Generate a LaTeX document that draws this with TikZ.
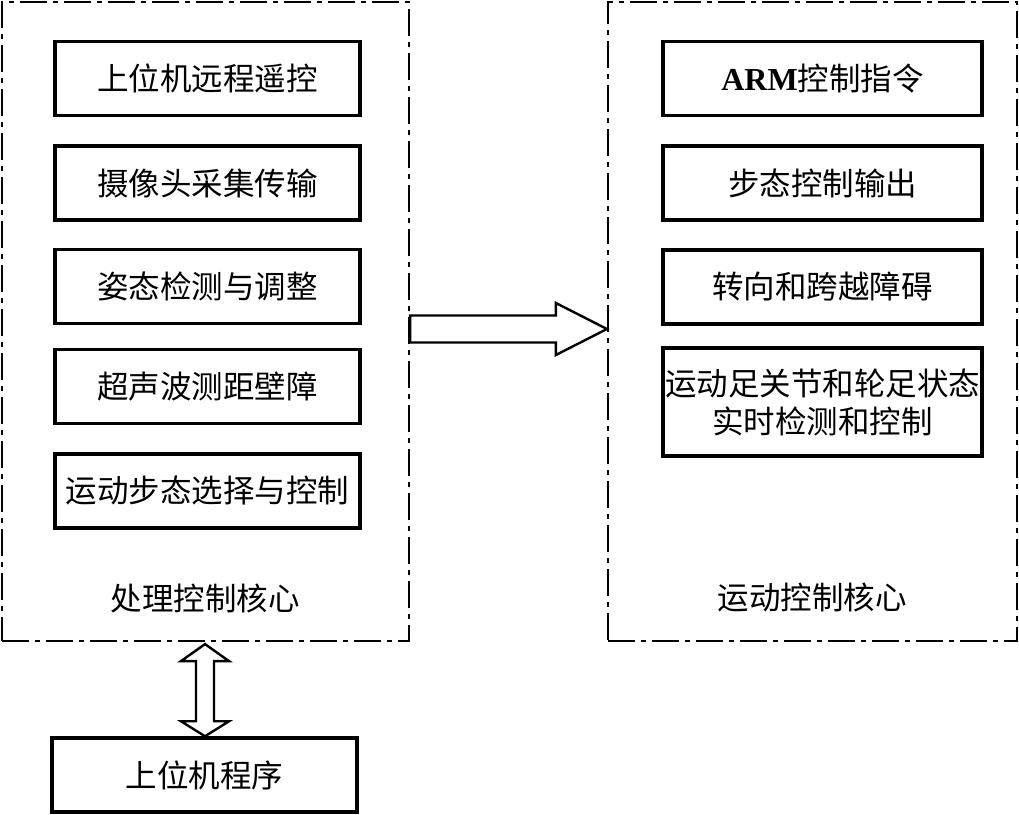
\documentclass[tikz,border=0pt]{standalone}
\usepackage{fontspec}
\setmainfont{Liberation Serif}
\newfontfamily\cjk{Noto Sans CJK SC}
\usetikzlibrary{calc}
\begin{document}
\begin{tikzpicture}[x=1pt,y=-1pt,
  lbox/.style={draw, line width=3.5pt, minimum width=305pt, minimum height=74pt, inner sep=0pt,
    font=\fontsize{31.5}{38}\selectfont\cjk},
  rbox/.style={lbox, minimum width=319pt},
  frame/.style={draw, line width=2.2pt, dash pattern=on 27pt off 6pt on 5pt off 6pt, inner sep=0pt},
  lab/.style={font=\fontsize{31.5}{38}\selectfont\cjk, inner sep=0pt},
  bigarrow/.style={draw, line width=2.4pt, fill=white, line join=miter}]
\useasboundingbox (0,0) rectangle (1019,814);
\fill[white] (0,0) rectangle (1019,814);

% frames
\node[frame, minimum width=407pt, minimum height=639pt] (LF) at (205.5,321.5) {};
\node[frame, minimum width=409pt, minimum height=639pt] (RF) at (812.5,321.5) {};

% left boxes
\node[lbox] (l1) at (207.5,78.5) {上位机远程遥控};
\node[lbox] (l2) at (207.5,183) {摄像头采集传输};
\node[lbox] (l3) at (207.5,286.5) {姿态检测与调整};
\node[lbox] (l4) at (207.5,386.5) {超声波测距壁障};
\node[lbox] (l5) at (207.5,491) {运动步态选择与控制};
\node[lab] (lt) at (205,598) {处理控制核心};

% right boxes
\node[rbox] (r1) at (822.5,78.5) {{\fontsize{32}{38}\selectfont\rmfamily\bfseries ARM}控制指令};
\node[rbox] (r2) at (822.5,183) {步态控制输出};
\node[rbox] (r3) at (822.5,287) {转向和跨越障碍};
\node[rbox, minimum height=108pt, align=center] (r4) at (822.5,402) {运动足关节和轮足状态\\实时检测和控制};
\node[lab] (rt) at (812,598) {运动控制核心};

% host box
\node[lbox] (host) at (204.5,775) {上位机程序};

% right arrow
\coordinate (a1) at ($(LF.east)+(0,7.5)$);
\coordinate (a2) at ($(RF.west)+(0,7.5)$);
\draw[bigarrow] ($(a1)+(0,-13.5)$) -- ($(a2)+(-51,-13.5)$) -- ($(a2)+(-51,-26)$) -- (a2)
  -- ($(a2)+(-51,26)$) -- ($(a2)+(-51,13.5)$) -- ($(a1)+(0,13.5)$) -- cycle;

% double arrow
\coordinate (t) at ($(LF.south)+(-0.5,2)$);
\coordinate (b) at ($(host.north)+(0.5,0)$);
\draw[bigarrow] (t) -- ($(t)+(24,17)$) -- ($(t)+(9,17)$) -- ($(b)+(9,-15)$) -- ($(b)+(24,-15)$)
  -- (b) -- ($(b)+(-24,-15)$) -- ($(b)+(-9,-15)$) -- ($(t)+(-9,17)$) -- ($(t)+(-24,17)$) -- cycle;
\end{tikzpicture}
\end{document}
